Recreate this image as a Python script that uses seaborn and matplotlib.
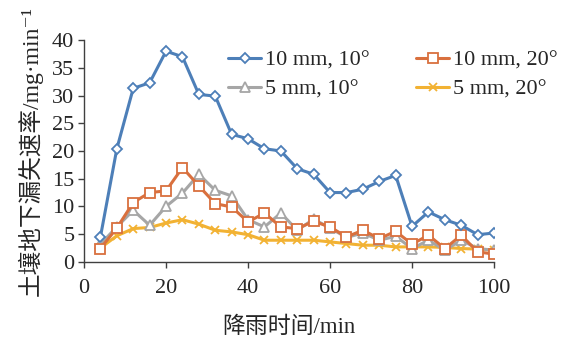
import numpy as np
import pandas as pd
import seaborn as sns
import matplotlib.pyplot as plt

# rainfall time (min)
time_min = list(range(4, 101, 4))

# soil underground loss rate (mg/min) for each condition
rate_10mm_10 = [4.5, 20.4, 31.3, 32.3, 38.0, 37.0, 30.2, 29.9, 23.0, 22.2, 20.4, 20.0, 16.8,
                15.8, 12.5, 12.5, 13.1, 14.5, 15.6, 6.4, 9.0, 7.6, 6.6, 4.9, 5.2]
rate_10mm_20 = [2.4, 6.1, 10.7, 12.5, 12.8, 17.0, 13.7, 10.5, 9.9, 7.2, 8.8, 6.3, 6.0,
                7.3, 6.3, 4.5, 5.7, 4.2, 5.5, 3.2, 4.8, 2.4, 4.8, 1.8, 1.4]
rate_5mm_10 = [3.2, 6.3, 9.3, 6.6, 10.0, 12.4, 15.8, 12.9, 11.9, 7.6, 6.3, 8.8, 5.7,
               7.7, 6.1, 4.4, 5.2, 3.9, 4.6, 2.4, 3.9, 2.1, 3.9, 2.4, 2.1]
rate_5mm_20 = [2.5, 4.7, 6.0, 6.2, 7.0, 7.6, 6.8, 5.7, 5.4, 4.9, 3.9, 3.9, 3.9,
               3.9, 3.6, 3.3, 3.0, 3.0, 2.7, 2.7, 2.7, 2.6, 2.4, 2.3, 2.1]

series_labels = ["10 mm, 10°", "5 mm, 10°", "10 mm, 20°", "5 mm, 20°"]
series_values = [rate_10mm_10, rate_5mm_10, rate_10mm_20, rate_5mm_20]

x_ticks = [0, 20, 40, 60, 80, 100]
y_ticks = [0, 5, 10, 15, 20, 25, 30, 35, 40]

sns.set_theme(style="white")
plt.rcParams["font.family"] = ["Liberation Serif", "Noto Sans CJK SC", "DejaVu Serif"]

# long-form table for seaborn
df = pd.DataFrame({
    "time": time_min * len(series_labels),
    "rate": [v for vals in series_values for v in vals],
    "cond": [lab for lab, vals in zip(series_labels, series_values) for _ in vals],
})

colors = {"10 mm, 10°": "#4d7fb8", "5 mm, 10°": "#a6a6a6",
          "10 mm, 20°": "#d9703e", "5 mm, 20°": "#f2b233"}
markers = {"10 mm, 10°": "D", "5 mm, 10°": "^", "10 mm, 20°": "s", "5 mm, 20°": "x"}
msizes = {"10 mm, 10°": 5, "5 mm, 10°": 6.5, "10 mm, 20°": 7, "5 mm, 20°": 5.5}

fig, ax = plt.subplots(figsize=(5.64, 3.37), dpi=100)
fig.subplots_adjust(left=0.149, right=0.876, bottom=0.223, top=0.881)

# draw in back-to-front order similar to the original
for lab in ["5 mm, 20°", "5 mm, 10°", "10 mm, 20°", "10 mm, 10°"]:
    sub = df[df["cond"] == lab]
    c = colors[lab]
    sns.lineplot(data=sub, x="time", y="rate", ax=ax, color=c, linewidth=2.2,
                 marker=markers[lab], markersize=msizes[lab],
                 markerfacecolor=c if lab == "5 mm, 20°" else "white",
                 markeredgecolor=c, markeredgewidth=1.3, label=lab)

ax.set_xlim(0, 100)
ax.set_ylim(0, 40)
ax.set_xticks(x_ticks)
ax.set_yticks(y_ticks)
ax.tick_params(axis="both", labelsize=16, length=4, width=1, color="#404040",
               direction="out", bottom=True, left=True)
ax.tick_params(axis="x", pad=8)
ax.tick_params(axis="y", pad=3)
for side in ["top", "right"]:
    ax.spines[side].set_visible(False)
for side in ["left", "bottom"]:
    ax.spines[side].set_color("#404040")
    ax.spines[side].set_linewidth(1)

ax.set_xlabel("降雨时间/min", fontsize=16.5, labelpad=14)
ax.set_ylabel("土壤地下漏失速率/mg·min⁻¹", fontsize=17, labelpad=7)

handles, labels = ax.get_legend_handles_labels()
order = [labels.index(l) for l in series_labels]
ax.legend([handles[i] for i in order], [labels[i] for i in order],
          ncol=2, frameon=False, fontsize=16, loc="upper left",
          bbox_to_anchor=(0.404, 0.851), bbox_transform=fig.transFigure,
          handlelength=1.5, handletextpad=0.15, columnspacing=2.1,
          labelspacing=0.38, borderaxespad=0, borderpad=0)

fig.savefig("out.png", dpi=100)
